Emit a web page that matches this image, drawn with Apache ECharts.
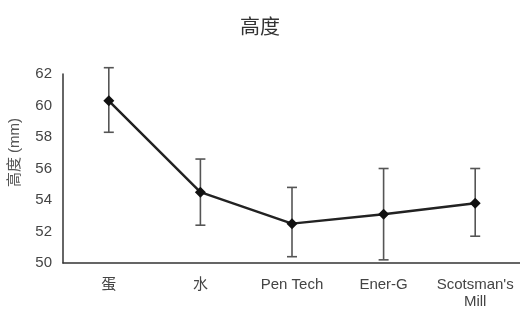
<!DOCTYPE html>
<html>
<head>
<meta charset="utf-8">
<script src="https://cdn.jsdelivr.net/npm/echarts@6/dist/echarts.min.js"></script>
<style>
  html, body { margin: 0; padding: 0; background: #fff; }
  #chart { width: 520px; height: 309px; }
</style>
</head>
<body>
<div id="chart"></div>
<script>
const categories = ["蛋", "水", "Pen Tech", "Ener-G", "Scotsman's\nMill"];
const heights = [60.3, 54.5, 52.5, 53.1, 53.8];
const errLow = [58.3, 52.4, 50.4, 50.2, 51.7];
const errHigh = [62.4, 56.6, 54.8, 56.0, 56.0];

const chart = echarts.init(document.getElementById("chart"));

// vertical whisker with caps, from low to high
function renderErrorBar(params, api) {
  const x = api.value(0);
  const low = api.coord([x, api.value(1)]);
  const high = api.coord([x, api.value(2)]);
  const half = 5;
  const style = { stroke: "#555", lineWidth: 1.6 };
  return {
    type: "group",
    children: [
      { type: "line", shape: { x1: low[0], y1: low[1], x2: high[0], y2: high[1] }, style },
      { type: "line", shape: { x1: low[0] - half, y1: low[1], x2: low[0] + half, y2: low[1] }, style },
      { type: "line", shape: { x1: high[0] - half, y1: high[1], x2: high[0] + half, y2: high[1] }, style }
    ]
  };
}

chart.setOption({
  animation: false,
  backgroundColor: "#fff",
  title: {
    text: "高度",
    left: "center",
    top: 11,
    textStyle: {
      color: "#333",
      fontSize: 20,
      fontWeight: "normal",
      fontFamily: "Noto Sans CJK SC"
    }
  },
  grid: {
    left: 63,
    right: -1,
    top: 74,
    bottom: 46,
    outerBoundsMode: "none"
  },
  xAxis: {
    type: "category",
    data: categories,
    boundaryGap: true,
    axisLine: { lineStyle: { color: "#333", width: 1.5 } },
    axisTick: { show: false },
    axisLabel: {
      color: "#444",
      fontSize: 15,
      margin: 13,
      lineHeight: 17,
      fontFamily: "Liberation Sans, Noto Sans CJK SC",
      interval: 0
    }
  },
  yAxis: {
    type: "value",
    min: 50,
    max: 62,
    interval: 2,
    name: "高度 (mm)",
    nameLocation: "middle",
    nameGap: 41,
    nameTextStyle: {
      color: "#555",
      fontSize: 15,
      fontFamily: "Liberation Sans, Noto Sans CJK SC",
      padding: [0, 0, 0, 32]
    },
    axisLine: { show: true, lineStyle: { color: "#333", width: 1.5 } },
    axisTick: { show: false },
    splitLine: { show: false },
    axisLabel: {
      color: "#444",
      fontSize: 15,
      margin: 11,
      fontFamily: "Liberation Sans"
    }
  },
  series: [
    {
      type: "custom",
      renderItem: renderErrorBar,
      data: categories.map((c, i) => [i, errLow[i], errHigh[i]]),
      encode: { x: 0, y: [1, 2] },
      z: 1
    },
    {
      type: "line",
      data: heights,
      symbol: "diamond",
      symbolSize: 11,
      lineStyle: { color: "#222", width: 2.5 },
      itemStyle: { color: "#111" },
      z: 2
    }
  ]
});
</script>
</body>
</html>
